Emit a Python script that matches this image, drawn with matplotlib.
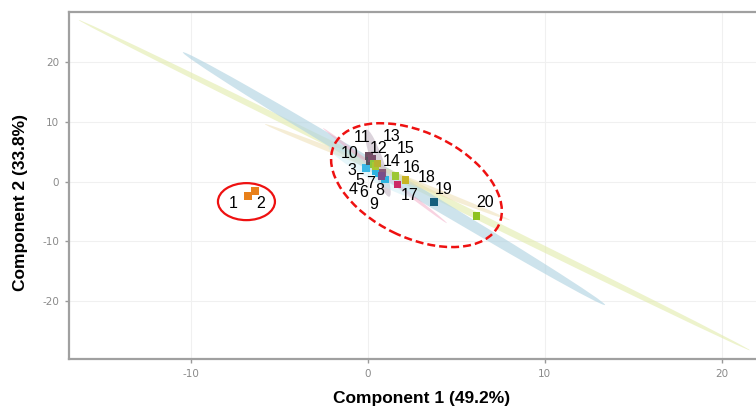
import matplotlib
matplotlib.use("Agg")
import matplotlib.pyplot as plt
from matplotlib.patches import Ellipse
from matplotlib.transforms import ScaledTranslation

plt.rcParams['axes.unicode_minus'] = False

# ---------------- data ----------------
sample_ids = [str(i) for i in range(1, 21)]
comp1 = [-6.77, -6.37, 0.45, 0.63, 0.97, 0.12, 0.82, 0.78, -0.10, 0.07,
         0.12, 0.24, 0.31, 0.45, 0.56, 1.58, 1.69, 2.14, 3.75, 6.15]
comp2 = [-2.43, -1.60, 1.64, 1.37, 0.37, 2.93, 1.47, 0.92, 2.26, 4.27,
         3.48, 3.90, 2.93, 2.60, 3.05, 0.92, -0.50, 0.25, -3.43, -5.78]
point_colors = ['#e8801a', '#e8801a', '#2eb3e0', '#2eb3e0', '#2eb3e0', '#1b9aa6',
                '#8a5a78', '#7a4e8a', '#3ab8e6', '#6e4f62', '#555560', '#7a4e6a',
                '#8cc63f', '#a8c830', '#b8b030', '#9cc832', '#cc2a66', '#c8b424',
                '#16607e', '#8dc21f']
label_x = [-7.6, -6.03, -0.91, -0.85, -0.44, -0.25, 0.16, 0.69, 0.35, -1.0,
           -0.34, 0.62, 1.35, 1.37, 2.16, 2.48, 2.38, 3.33, 4.26, 6.62]
label_y = [-3.65, -3.65, 1.81, -1.31, 0.25, -1.88, -0.30, -1.54, -3.77, 4.72,
           7.40, 5.56, 7.50, 3.43, 5.56, 2.38, -2.38, 0.70, -1.31, -3.55]
xticks = [-10, 0, 10, 20]
yticks = [-20, -10, 0, 10, 20]
xlabel = "Component 1 (49.2%)"
ylabel = "Component 2 (33.8%)"

# group confidence bands: centre (data), length px, thickness px, angle deg, colour, alpha
band_cx = [2.63, 1.48, 1.11, 0.97, 0.57, 0.24]
band_cy = [-0.59, 0.50, 1.59, 1.01, 3.10, 1.59]
band_len = [748, 492, 263, 156, 71, 100]
band_thk = [7, 12, 6, 4, 12, 14]
band_ang = [-26.2, -30.9, -21.4, -37.5, -71, -30]
band_col = ['#e2ebaa', '#b2d4e2', '#eddcad', '#f2a8c4', '#c9bcc9', '#c8ecf4']
band_alpha = [0.6, 0.65, 0.5, 0.5, 0.65, 0.45]

# ---------------- figure ----------------
W, H, DPI = 756, 412, 100
fig = plt.figure(figsize=(W / DPI, H / DPI), dpi=DPI)
ax_left, ax_right, ax_bottom, ax_top = 69, 774, 359, 12
ax = fig.add_axes([ax_left / W, (H - ax_bottom) / H,
                   (ax_right - ax_left) / W, (ax_bottom - ax_top) / H])
ax.set_xlim(-16.87, 22.94)
ax.set_ylim(-29.7, 28.4)

ax.set_xticks(xticks)
ax.set_yticks(yticks)
ax.grid(True, color='#f0f0f0', linewidth=0.8)
ax.set_axisbelow(True)
ax.tick_params(axis='both', colors='#999999', labelcolor='#8a8a8a',
               labelsize=7.5, length=3, width=1, pad=4)
for side in ['left', 'bottom', 'top', 'right']:
    ax.spines[side].set_color('#a0a0a0')
    ax.spines[side].set_linewidth(1.6)


def px_ellipse(cx, cy, wpx, hpx, ang, **kw):
    tr = fig.dpi_scale_trans + ScaledTranslation(cx, cy, ax.transData)
    e = Ellipse((0, 0), wpx / DPI, hpx / DPI, angle=ang, transform=tr, **kw)
    ax.add_patch(e)
    return e


for cx, cy, L, T, a, c, al in zip(band_cx, band_cy, band_len, band_thk,
                                  band_ang, band_col, band_alpha):
    px_ellipse(cx, cy, L, T, a, facecolor=c, edgecolor='none', alpha=al, zorder=1)

ax.scatter(comp1, comp2, c=point_colors, marker='s', s=28, linewidths=0, zorder=3)

for sid, lx, ly in zip(sample_ids, label_x, label_y):
    ax.text(lx, ly, sid, ha='center', va='center', fontsize=11.5,
            family=['Liberation Sans', 'DejaVu Sans'], color='black', zorder=4)

# highlight ellipses
px_ellipse(-6.85, -3.35, 57, 37, 0, facecolor='none', edgecolor='#ee1111',
           linewidth=1.6, zorder=5)
px_ellipse(2.75, -0.59, 183, 105, -26, facecolor='none', edgecolor='#ee1111',
           linewidth=1.8, linestyle=(0, (3.2, 1.6)), zorder=5)

ax.set_xlabel(xlabel, fontsize=12.5, fontweight='bold',
              family=['Liberation Sans', 'DejaVu Sans'])
ax.set_ylabel(ylabel, fontsize=12.5, fontweight='bold',
              family=['Liberation Sans', 'DejaVu Sans'])
ax.xaxis.set_label_coords(0.5, -0.092)
ax.yaxis.set_label_coords(-0.058, 0.45)

fig.savefig('out.png', dpi=DPI)
